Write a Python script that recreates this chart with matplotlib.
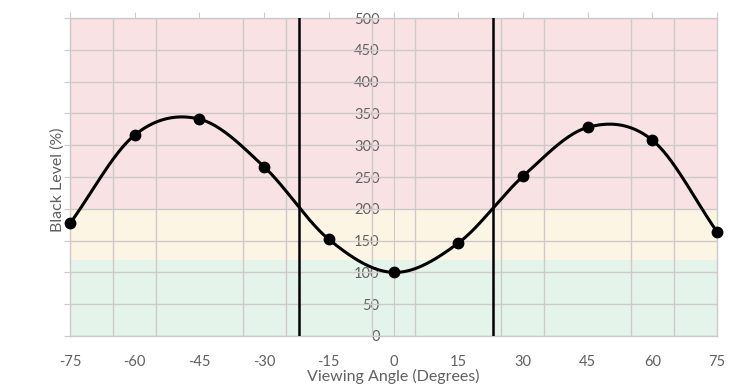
import numpy as np
import matplotlib
import matplotlib.pyplot as plt
from matplotlib.ticker import FixedLocator

matplotlib.use('Agg')
plt.rcParams['font.family'] = ['Lato', 'DejaVu Sans']

# Данные
angles = [-75, -60, -45, -30, -15, 0, 15, 30, 45, 60, 75]
black_level = [177, 316, 341, 266, 152, 100, 146, 251, 328, 308, 164]
threshold_angles = [-22, 23]
bands = [(0, 120, '#e4f4ea'), (120, 200, '#fdf5e3'), (200, 500, '#f8e2e3')]
x_ticks = list(range(-75, 76, 15))
x_grid = list(range(-75, 76, 10))
y_ticks = list(range(0, 501, 50))

GRAY = '#606060'
GRID = '#cfcaca'


def smooth(xs, ys, n=40):
    """Сглаженная линия как в Excel (Catmull-Rom)."""
    xs = np.asarray(xs, float)
    ys = np.asarray(ys, float)
    px = np.concatenate([[2 * xs[0] - xs[1]], xs, [2 * xs[-1] - xs[-2]]])
    py = np.concatenate([[2 * ys[0] - ys[1]], ys, [2 * ys[-1] - ys[-2]]])
    out_x, out_y = [], []
    for i in range(1, len(px) - 2):
        t = np.linspace(0, 1, n)
        h = px[i + 1] - px[i]
        mx0 = (py[i + 1] - py[i - 1]) / (px[i + 1] - px[i - 1]) * h
        mx1 = (py[i + 2] - py[i]) / (px[i + 2] - px[i]) * h
        h00 = 2 * t**3 - 3 * t**2 + 1
        h10 = t**3 - 2 * t**2 + t
        h01 = -2 * t**3 + 3 * t**2
        h11 = t**3 - t**2
        out_x.append(px[i] + t * h)
        out_y.append(h00 * py[i] + h10 * mx0 + h01 * py[i + 1] + h11 * mx1)
    return np.concatenate(out_x), np.concatenate(out_y)


fig = plt.figure(figsize=(7.44, 3.90), dpi=100)
ax = fig.add_axes([0.0941, 0.1385, 0.8696, 0.8153])

for lo, hi, col in bands:
    ax.axhspan(lo, hi, color=col, lw=0, zorder=0)

ax.set_xlim(-75, 75)
ax.set_ylim(0, 500)

ax.xaxis.set_major_locator(FixedLocator(x_ticks))
ax.xaxis.set_minor_locator(FixedLocator(x_grid))
ax.yaxis.set_major_locator(FixedLocator(y_ticks))
ax.set_xticklabels([str(v) for v in x_ticks])
ax.grid(True, which='minor', axis='x', color=GRID, lw=1, zorder=1)
ax.grid(True, which='major', axis='y', color=GRID, lw=1, zorder=1)
ax.set_axisbelow(True)

ax.tick_params(axis='x', which='major', bottom=False, top=True, direction='out',
               length=4, color=GRID, labelsize=10.5, labelcolor=GRAY, pad=10)
ax.tick_params(axis='x', which='minor', bottom=False, top=False)
ax.tick_params(axis='y', left=True, labelleft=False, direction='out', length=4,
               color=GRID)
for s in ax.spines.values():
    s.set_color(GRID)
    s.set_linewidth(1)

# подписи оси Y по центру (x = 0)
sec = ax.secondary_yaxis(0.5)
sec.set_alignment('left')
sec.yaxis.set_major_locator(FixedLocator(y_ticks))
sec.tick_params(axis='y', left=True, right=False, labelleft=True, labelright=False,
                length=3, color=GRID, labelsize=10.5, labelcolor=GRAY, pad=7)
sec.spines['left'].set_color(GRID)

for a in threshold_angles:
    ax.axvline(a, color='black', lw=1.8, zorder=3)

sx, sy = smooth(angles, black_level)
ax.plot(sx, sy, color='black', lw=2.2, zorder=4, clip_on=False)
ax.plot(angles, black_level, 'o', color='black', ms=7.5, zorder=5, clip_on=False)

ax.set_xlabel('Viewing Angle (Degrees)', color=GRAY, fontsize=11.5, labelpad=0)
fig.text(0.078, 0.5385, 'Black Level (%)', rotation=90, color=GRAY,
         fontsize=11.5, ha='center', va='center')

fig.savefig('out.png', dpi=100)
plt.close(fig)
